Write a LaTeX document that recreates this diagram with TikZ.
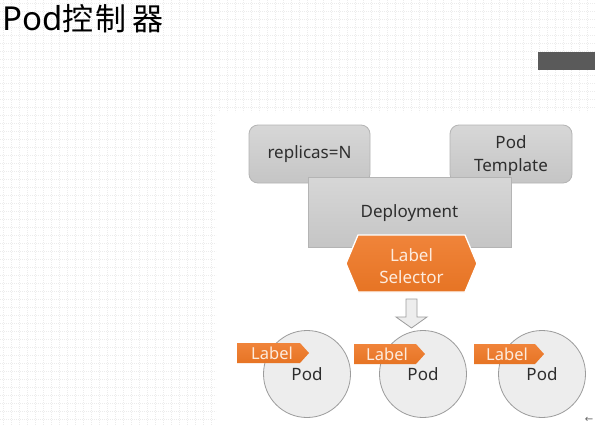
\documentclass[tikz,border=0pt]{standalone}
\usepackage{fontspec}
\setmainfont{Noto Sans}
\newfontfamily\cjk{Noto Sans CJK SC}
\newfontfamily\dejavu{DejaVu Sans}
\definecolor{org}{HTML}{ED7D31}
\definecolor{orgtop}{HTML}{F0843A}
\definecolor{orgbot}{HTML}{E67424}
\definecolor{boxtop}{HTML}{D7D7D7}
\definecolor{boxbot}{HTML}{C5C5C5}
\definecolor{boxborder}{HTML}{B4B4B4}
\definecolor{textgray}{HTML}{2E2E2E}
\definecolor{podfill}{HTML}{EDEDED}
\definecolor{podborder}{HTML}{9C9C9C}
\definecolor{cream}{HTML}{FDEBDD}
\definecolor{gridc}{HTML}{ECECEC}
\definecolor{barc}{HTML}{5A5A5A}
\tikzset{
  griddot/.style={draw=gridc, line width=0.6pt, dash pattern=on 0.6pt off 1.4pt},
  graybox/.style={draw=boxborder, top color=boxtop, bottom color=boxbot, line width=0.8pt,
    text=textgray, font=\fontsize{17}{23}\selectfont, align=center, inner sep=0pt},
  podc/.style={circle, draw=podborder, fill=podfill, line width=0.8pt, minimum size=87pt,
    inner sep=0pt, text=textgray, font=\fontsize{17}{20}\selectfont},
  tagshape/.style={top color=orgtop, bottom color=orgbot, draw=none},
  tagtext/.style={text=cream, font=\fontsize{16.5}{20}\selectfont, anchor=west, inner sep=0pt},
  seltext/.style={text=cream, font=\fontsize{17}{22}\selectfont, align=center, inner sep=0pt},
  blockarrow/.style={fill=podfill, draw=podborder, line width=0.8pt}
}
\begin{document}
\begin{tikzpicture}[x=1pt,y=-1pt]
\useasboundingbox (0,0) rectangle (595,426);
\fill[white] (0,0) rectangle (595,426);
% background dotted grid
\foreach \x in {3,11,...,211} \draw[griddot] (\x,0) -- (\x,426);
\foreach \x in {219,227,...,595} \draw[griddot] (\x,0) -- (\x,112);
\foreach \y in {3,11,...,107} \draw[griddot] (0,\y) -- (595,\y);
\foreach \y in {115,123,...,426} \draw[griddot] (0,\y) -- (216,\y);
% dark bar
\fill[barc] (538,52) rectangle (595,70);
% title
\node[anchor=base west, inner sep=0pt] (title) at (2,30)
  {\fontsize{33}{33}\selectfont Pod\cjk\fontsize{31}{31}\selectfont 控\hspace{2pt}制\hspace{6pt}器};
% boxes
\node[graybox, rounded corners=9pt, minimum width=121pt, minimum height=58pt] (rep) at (309.5,154) {replicas=N};
\node[graybox, rounded corners=9pt, minimum width=122pt, minimum height=58pt] (tpl) at (511,154) {};
\node[text=textgray, font=\fontsize{17}{23}\selectfont, align=center, inner sep=0pt] (tpltext) at (511,156) {Pod\\Template};
\node[graybox, minimum width=203pt, minimum height=70pt] (dep) at (409.5,212) {};
\node[text=textgray, font=\fontsize{17}{23}\selectfont, inner sep=0pt] (deptext) at (409.5,213) {Deployment};
% label selector hexagon
\path[top color=orgtop, bottom color=orgbot, draw=white, line width=1.3pt]
  (346,263.5) -- (358,235) -- (465,235) -- (477,263.5) -- (465,292) -- (358,292) -- cycle;
\node[seltext] (sel) at (411.5,266) {Label\\Selector};
% pods
\node[podc] (pod1) at (307,374) {Pod};
\node[podc] (pod2) at (423,374) {Pod};
\node[podc] (pod3) at (542,374) {Pod};
% block arrow
\path[blockarrow] (406,299) -- (417,299) -- (417,317) -- (427,317) -- (411.5,328) -- (396,317) -- (406,317) -- cycle;
% tags
\path[tagshape] (237,343) -- (300,343) -- (309,353) -- (300,363) -- (237,363) -- cycle;
\node[tagtext] (tag1) at (251,353) {Label};
\path[tagshape] (354,344) -- (416,344) -- (425,354) -- (416,364) -- (354,364) -- cycle;
\node[tagtext] (tag2) at (366,354) {Label};
\path[tagshape] (474,344) -- (535,344) -- (544,354) -- (535,364) -- (474,364) -- cycle;
\node[tagtext] (tag3) at (486,354) {Label};
% small back arrow
\node[text=gray!80!black, font=\dejavu\fontsize{10}{10}\selectfont, inner sep=0pt] (back) at (589,420) {←};
\end{tikzpicture}
\end{document}
